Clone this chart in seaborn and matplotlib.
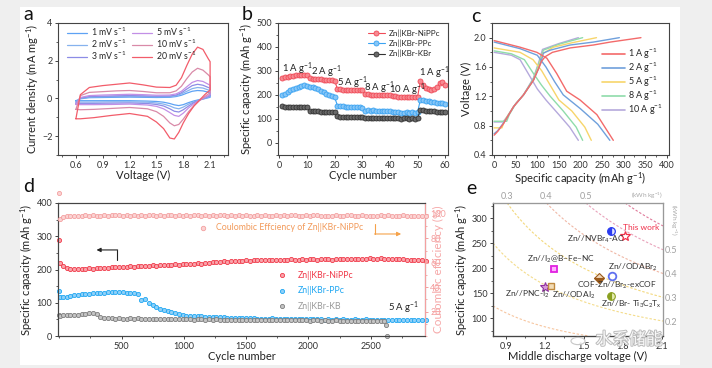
import numpy as np
import pandas as pd
import matplotlib
matplotlib.use('Agg')
import matplotlib.pyplot as plt
import seaborn as sns
from matplotlib.patches import Rectangle, Circle
from matplotlib.lines import Line2D
from matplotlib.ticker import AutoMinorLocator
import matplotlib.patheffects as pe

# ---------------- data ----------------
# (a) CV curves
cv_rates = ['1', '2', '3', '5', '10', '20']
cv_up_v = [0.6, 0.65, 0.75, 0.9, 1.05, 1.2, 1.35, 1.5, 1.65, 1.72, 1.78, 1.84, 1.9, 1.96, 2.02, 2.08, 2.1]
cv_lo_v = [2.1, 2.04, 1.98, 1.92, 1.86, 1.80, 1.75, 1.70, 1.65, 1.58, 1.5, 1.4, 1.2, 1.0, 0.8, 0.65, 0.6]
cv_up_1 = [-0.12, -0.02, 0.04, 0.05, 0.06, 0.07, 0.06, 0.05, 0.06, 0.10, 0.17, 0.28, 0.38, 0.42, 0.40, 0.33, 0.30]
cv_up_2 = [-0.18, 0.0, 0.07, 0.09, 0.10, 0.11, 0.10, 0.09, 0.10, 0.14, 0.24, 0.38, 0.52, 0.58, 0.55, 0.45, 0.42]
cv_up_3 = [-0.25, 0.02, 0.10, 0.12, 0.14, 0.15, 0.14, 0.12, 0.13, 0.18, 0.30, 0.50, 0.68, 0.75, 0.70, 0.58, 0.55]
cv_up_5 = [-0.32, 0.05, 0.15, 0.18, 0.20, 0.22, 0.20, 0.17, 0.18, 0.24, 0.38, 0.62, 0.85, 0.95, 0.90, 0.75, 0.70]
cv_up_10 = [-0.58, 0.15, 0.32, 0.36, 0.40, 0.42, 0.37, 0.30, 0.30, 0.40, 0.65, 1.05, 1.40, 1.60, 1.50, 1.25, 1.15]
cv_up_20 = [-1.08, 0.20, 0.58, 0.68, 0.75, 0.82, 0.72, 0.60, 0.58, 0.70, 1.10, 1.75, 2.35, 2.72, 2.60, 2.10, 1.95]
cv_lo_1 = [0.06, -0.01, -0.06, -0.13, -0.22, -0.33, -0.38, -0.34, -0.27, -0.20, -0.16, -0.14, -0.12, -0.12, -0.12, -0.12, -0.12]
cv_lo_2 = [0.10, 0.0, -0.08, -0.18, -0.30, -0.46, -0.55, -0.50, -0.40, -0.30, -0.24, -0.20, -0.18, -0.18, -0.19, -0.19, -0.18]
cv_lo_3 = [0.15, 0.02, -0.10, -0.22, -0.40, -0.60, -0.72, -0.68, -0.55, -0.40, -0.32, -0.27, -0.24, -0.25, -0.26, -0.26, -0.25]
cv_lo_5 = [0.20, 0.05, -0.10, -0.28, -0.50, -0.78, -0.95, -0.90, -0.75, -0.55, -0.42, -0.35, -0.30, -0.32, -0.33, -0.33, -0.32]
cv_lo_10 = [0.30, 0.10, -0.12, -0.38, -0.70, -1.10, -1.38, -1.45, -1.30, -0.95, -0.70, -0.55, -0.48, -0.53, -0.58, -0.60, -0.58]
cv_lo_20 = [0.45, 0.20, -0.10, -0.40, -0.80, -1.30, -1.80, -2.15, -2.10, -1.60, -1.25, -0.95, -0.80, -0.90, -1.02, -1.08, -1.08]

# (b) rate performance
b_cycles = list(range(1, 61))
b_nippc = [270, 274, 277, 279, 281, 283, 284, 284, 285, 285,
           270, 268, 267, 266, 265, 264, 263, 262, 262, 260,
           225, 223, 222, 222, 221, 221, 220, 220, 220, 219,
           205, 203, 202, 201, 200, 200, 200, 200, 200, 200,
           195, 194, 193, 193, 193, 193, 192, 192, 193, 193,
           257, 240, 230, 225, 222, 225, 235, 248, 256, 243]
b_ppc = [200, 205, 212, 220, 226, 231, 235, 238, 240, 238,
         235, 232, 228, 224, 218, 212, 206, 200, 195, 190,
         156, 154, 153, 152, 151, 150, 149, 148, 148, 147,
         135, 137, 134, 136, 133, 135, 134, 132, 134, 133,
         130, 128, 131, 127, 126, 130, 125, 128, 127, 129,
         180, 178, 176, 174, 172, 170, 168, 166, 165, 163]
b_kb = [153, 152, 152, 151, 151, 150, 150, 149, 149, 148,
        134, 133, 132, 132, 131, 131, 130, 130, 129, 129,
        111, 110, 110, 109, 110, 109, 109, 108, 109, 108,
        106, 104, 106, 105, 104, 105, 103, 105, 104, 104,
        104, 103, 105, 102, 104, 103, 101, 104, 102, 104,
        137, 136, 135, 134, 133, 132, 131, 130, 129, 128]

# (c) charge / discharge profiles
c_rates = ['1', '2', '5', '8', '10']
c_chg_x_1 = [0, 8, 22, 45, 68, 91, 103, 110, 118, 135, 176, 230, 269, 340]
c_chg_v_1 = [0.67, 0.72, 0.83, 1.06, 1.22, 1.42, 1.58, 1.68, 1.74, 1.80, 1.86, 1.90, 1.94, 2.0]
c_dch_x_1 = [0, 60, 99, 122, 145, 168, 199, 238, 276]
c_dch_v_1 = [1.96, 1.87, 1.80, 1.72, 1.51, 1.27, 1.15, 0.95, 0.6]
c_chg_x_2 = [0, 8, 22, 45, 68, 91, 103, 110, 114, 130, 176, 230, 290]
c_chg_v_2 = [0.69, 0.73, 0.84, 1.06, 1.22, 1.42, 1.58, 1.70, 1.79, 1.83, 1.90, 1.94, 2.0]
c_dch_x_2 = [0, 60, 100, 120, 140, 160, 200, 240, 268]
c_dch_v_2 = [1.94, 1.85, 1.76, 1.60, 1.40, 1.22, 1.03, 0.82, 0.60]
c_chg_x_5 = [0, 18, 25, 45, 68, 91, 103, 112, 137, 180, 237]
c_chg_v_5 = [0.77, 0.77, 0.88, 1.06, 1.22, 1.42, 1.60, 1.78, 1.87, 1.93, 2.0]
c_dch_x_5 = [0, 60, 90, 110, 130, 150, 180, 210, 225]
c_dch_v_5 = [1.86, 1.80, 1.70, 1.55, 1.35, 1.15, 1.00, 0.78, 0.60]
c_chg_x_8 = [0, 29, 35, 50, 68, 91, 103, 114, 150, 205]
c_chg_v_8 = [0.86, 0.86, 0.95, 1.10, 1.22, 1.44, 1.64, 1.83, 1.91, 2.0]
c_dch_x_8 = [0, 40, 70, 90, 110, 130, 160, 190, 205]
c_dch_v_8 = [1.82, 1.78, 1.70, 1.52, 1.35, 1.20, 1.00, 0.78, 0.60]
c_chg_x_10 = [0, 20, 30, 50, 68, 91, 103, 112, 150, 195]
c_chg_v_10 = [0.85, 0.85, 0.92, 1.10, 1.22, 1.45, 1.66, 1.84, 1.92, 2.0]
c_dch_x_10 = [0, 40, 60, 80, 100, 120, 150, 175, 195]
c_dch_v_10 = [1.80, 1.76, 1.70, 1.50, 1.30, 1.15, 0.95, 0.78, 0.60]

# (d) long cycling at 5 A/g
d_cycles = [1, 10] + list(range(30, 2941, 30))
d_nippc = [288, 220,
           210, 205, 202, 201, 202, 203, 202, 204, 203, 205,
           204, 206, 205, 207, 208, 207, 209, 208, 210, 209,
           211, 210, 212, 211, 213, 212, 214, 213, 215, 214,
           216, 215, 217, 216, 218, 217, 219, 218, 220, 221,
           222, 224, 223, 225, 224, 226, 225, 227, 226, 228,
           227, 228, 229, 228, 230, 229, 228, 230, 229, 230,
           229, 231, 230, 229, 231, 230, 232, 231, 230, 232,
           231, 232, 230, 232, 231, 233, 232, 231, 233, 232,
           233, 232, 234, 233, 232, 234, 233, 232, 233, 232,
           231, 232, 230, 229, 230, 228, 229, 227]
d_ce = [117, 95.5,
        97.5, 98.0, 98.3, 98.0, 98.6, 98.2, 98.8, 98.4, 98.9, 98.5,
        98.7, 99.0, 98.6, 99.2, 98.8, 99.0, 98.5, 98.9, 98.7, 99.1,
        98.6, 98.9, 98.4, 98.8, 99.0, 98.6, 98.9, 98.5, 98.8, 99.2,
        98.7, 98.9, 98.5, 99.0, 98.6, 98.8, 99.3, 98.7, 99.0, 98.6,
        98.9, 98.5, 98.8, 99.1, 98.6, 98.9, 98.4, 98.8, 98.6, 99.0,
        98.7, 98.5, 98.9, 98.6, 99.1, 98.7, 98.5, 98.9, 98.6, 98.8,
        98.5, 98.9, 99.2, 98.7, 98.5, 98.8, 98.4, 98.9, 99.0, 98.6,
        98.3, 98.7, 98.5, 98.8, 98.2, 98.6, 98.9, 99.1, 98.7, 98.5,
        98.8, 98.4, 98.7, 98.3, 98.6, 98.9, 98.5, 98.8, 98.4, 98.7,
        98.5, 98.8, 98.4, 98.6, 98.3, 98.7, 98.5, 98.6]
d_ppc = [135, 118,
         116, 118, 120, 122, 124, 125, 126, 127, 128, 129,
         130, 129, 131, 132, 133, 132, 131, 130, 129, 128,
         127, 108, 110, 100, 93, 87, 82, 78, 74, 71,
         68, 65, 62, 61, 60, 60, 59, 59, 58, 58,
         57, 57, 56, 56, 55, 55, 54, 54, 54, 53,
         53, 53, 52, 52, 52, 52, 53, 51, 51, 51,
         51, 50, 51, 50, 50, 50, 51, 50, 50, 50,
         49, 50, 49, 50, 49, 50, 49, 49, 50, 49,
         49, 50, 49, 49, 49, 49, 48, 49, 49, 48,
         49, 48, 49, 48, 48, 48, 49, 48]
d_kb_cycles = [1, 10] + list(range(30, 2611, 30)) + [2625, 2632]
d_kb = [62, 61,
        62, 62, 63, 63, 64, 65, 67, 69, 70, 66,
        56, 54, 53, 53, 52, 53, 51, 52, 53, 52,
        53, 52, 51, 52, 51, 52, 51, 50, 51, 50,
        51, 50, 50, 51, 50, 49, 50, 50, 49, 50,
        49, 50, 49, 49, 48, 49, 49, 48, 49, 48,
        48, 49, 48, 48, 49, 48, 47, 48, 48, 47,
        48, 47, 47, 48, 47, 47, 46, 47, 47, 46,
        47, 46, 46, 47, 46, 46, 45, 46, 46, 45,
        46, 45, 45, 46, 45, 44, 45,
        33, 0]

# (e) comparison
e_names = ['This work', 'Zn//NVBr$_4$-AC', 'Zn//I$_2$@B\u2013Fe\u2013NC', 'Zn//ODABr$_2$',
           'COF-Zn//Br$_2$-exCOF', 'Zn//PNC-I$_2$', 'Zn//ODAI$_2$', 'Zn//Br- Ti$_3$C$_2$T$_x$']
e_voltage = [1.82, 1.71, 1.27, 1.72, 1.62, 1.20, 1.25, 1.71]
e_capacity = [265, 275, 199, 185, 181, 163, 165, 145]
e_energy_levels = [0.1, 0.2, 0.3, 0.4, 0.5, 0.6]
e_top_labels = [0.3, 0.4, 0.5]
e_right_labels = [0.2, 0.3, 0.4, 0.5]

# ---------------- style ----------------
sns.set_theme(style='ticks')
plt.rcParams['font.family'] = ['Lato', 'DejaVu Sans']
plt.rcParams['mathtext.fontset'] = 'custom'
plt.rcParams['mathtext.rm'] = 'Lato'
plt.rcParams['mathtext.it'] = 'Lato:italic'
plt.rcParams['mathtext.default'] = 'rm'
plt.rcParams['axes.edgecolor'] = '#444444'
plt.rcParams['axes.linewidth'] = 0.8
plt.rcParams['xtick.color'] = '#444444'
plt.rcParams['ytick.color'] = '#444444'
plt.rcParams['xtick.labelcolor'] = '#333333'
plt.rcParams['ytick.labelcolor'] = '#333333'
plt.rcParams['axes.labelcolor'] = '#222222'

W, H = 712, 368
fig = plt.figure(figsize=(7.12, 3.68), dpi=100, facecolor='#efefef')
fig.patches.append(Rectangle((20 / W, 1 - 365 / H), 660 / W, 358 / H,
                             transform=fig.transFigure, facecolor='white',
                             edgecolor='none', zorder=-10))


def px_axes(x0, y0, x1, y1):
    ax = fig.add_axes([x0 / W, 1 - y1 / H, (x1 - x0) / W, (y1 - y0) / H])
    ax.set_zorder(1)
    return ax


def style(ax, minor=True):
    ax.tick_params(direction='out', length=2.5, width=0.7, labelsize=6.5, pad=1.5)
    ax.tick_params(which='minor', direction='out', length=1.5, width=0.6)
    if minor:
        ax.xaxis.set_minor_locator(AutoMinorLocator(2))
        ax.yaxis.set_minor_locator(AutoMinorLocator(2))
    for s in ax.spines.values():
        s.set_visible(True)


def align_legend(ax, leg, anchor, tx, ty, use_text=False):
    """Shift the legend so its first handle (or text) starts at pixel (tx, ty)."""
    fig.canvas.draw()
    r = fig.canvas.get_renderer()
    if use_text:
        bb = leg.get_texts()[0].get_window_extent(r)
    else:
        bb = leg.legend_handles[0].get_window_extent(r)
    cx, cy = bb.x0, 0.5 * (bb.y0 + bb.y1)
    axbb = ax.get_window_extent(r)
    dx = (tx - cx) / axbb.width
    dy = ((H - ty) - cy) / axbb.height
    leg.set_bbox_to_anchor((anchor[0] + dx, anchor[1] + dy), transform=ax.transAxes)


LBL = 8.0

# ---------------- (a) ----------------
axa = px_axes(58, 23, 228, 155)
cv_colors = ['#5ea2f4', '#86b2ee', '#8c8ce6', '#c28fe6', '#d98aa8', '#f25c6a']
cv_up = [cv_up_1, cv_up_2, cv_up_3, cv_up_5, cv_up_10, cv_up_20]
cv_lo = [cv_lo_1, cv_lo_2, cv_lo_3, cv_lo_5, cv_lo_10, cv_lo_20]
for r, up, lo, col in zip(cv_rates, cv_up, cv_lo, cv_colors):
    df = pd.DataFrame({'V': cv_up_v + cv_lo_v, 'I': up + lo})
    sns.lineplot(data=df, x='V', y='I', sort=False, estimator=None, color=col,
                 lw=0.9, ax=axa, label=f'{r} mV s$^{{-1}}$')
axa.set_xlim(0.4, 2.3)
axa.set_ylim(-3, 4)
axa.set_xticks([0.6, 0.9, 1.2, 1.5, 1.8, 2.1])
axa.set_yticks([-2, 0, 2, 4])
style(axa)
axa.set_xlabel('Voltage (V)', fontsize=LBL, labelpad=0.5)
axa.set_ylabel('Current density (mA mg$^{-1}$)', fontsize=LBL, labelpad=1)
anc_a = (0.04, 0.95)
leg_a = axa.legend(ncol=2, loc='upper left', bbox_to_anchor=anc_a, frameon=False,
                   fontsize=6.3, handlelength=2.3, columnspacing=0.7, labelspacing=-0.05,
                   handletextpad=0.4, borderaxespad=0.0)

# ---------------- (b) ----------------
axb = px_axes(278, 23, 448, 155)
b_names = ['Zn||KBr-NiPPc', 'Zn||KBr-PPc', 'Zn||KBr-KBr']
b_colors = ['#f04b58', '#3aa3f2', '#333333']
b_faces = ['#f78a92', '#86c6f7', '#6a6a6a']
for name, vals, col, fc in zip(b_names, [b_nippc, b_ppc, b_kb], b_colors, b_faces):
    sns.lineplot(x=b_cycles, y=vals, color=col, lw=0.8, marker='o', markersize=3.6,
                 markerfacecolor=fc, markeredgecolor=col, markeredgewidth=0.6,
                 ax=axb, label=name)
axb.set_xlim(-0.5, 61)
axb.set_ylim(-50, 500)
axb.set_xticks(range(0, 61, 10))
axb.set_yticks(range(0, 501, 100))
style(axb)
axb.set_xlabel('Cycle number', fontsize=LBL, labelpad=0.5)
axb.set_ylabel('Specific capacity (mAh g$^{-1}$)', fontsize=LBL, labelpad=1)
anc_b = (0.5, 0.97)
leg_b = axb.legend(loc='upper left', bbox_to_anchor=anc_b, frameon=False, fontsize=5.8,
                   handlelength=2.2, labelspacing=0.35, handletextpad=0.5, borderaxespad=0.0)
for txt, x, y in [('1 A g$^{-1}$', 1.0, 310), ('2 A g$^{-1}$', 11.5, 298),
                  ('5 A g$^{-1}$', 21.0, 251), ('8 A g$^{-1}$', 30.7, 229),
                  ('10 A g$^{-1}$', 39.6, 221), ('1 A g$^{-1}$', 50.6, 292)]:
    axb.text(x, y, txt, fontsize=6.8, color='#222222', ha='left', va='center')

# ---------------- (c) ----------------
axc = px_axes(492, 23, 669, 155)
c_colors = ['#f36a6a', '#6fa0dc', '#f7d56b', '#8fdcaa', '#b5a9dc']
c_chg = [(c_chg_x_1, c_chg_v_1), (c_chg_x_2, c_chg_v_2), (c_chg_x_5, c_chg_v_5),
         (c_chg_x_8, c_chg_v_8), (c_chg_x_10, c_chg_v_10)]
c_dch = [(c_dch_x_1, c_dch_v_1), (c_dch_x_2, c_dch_v_2), (c_dch_x_5, c_dch_v_5),
         (c_dch_x_8, c_dch_v_8), (c_dch_x_10, c_dch_v_10)]
for i in range(len(c_rates) - 1, -1, -1):
    col = c_colors[i]
    sns.lineplot(x=c_chg[i][0], y=c_chg[i][1], sort=False, estimator=None, color=col, lw=1.0, ax=axc)
    sns.lineplot(x=c_dch[i][0], y=c_dch[i][1], sort=False, estimator=None, color=col, lw=1.0, ax=axc)
axc.set_xlim(-5, 405)
axc.set_ylim(0.4, 2.2)
axc.set_xticks(range(0, 401, 50))
axc.set_yticks([0.4, 0.8, 1.2, 1.6, 2.0])
style(axc)
axc.set_ylabel('Voltage (V)', fontsize=LBL, labelpad=1)
axc.set_xlabel('Specific capacity (mAh g$^{-1}$)', fontsize=LBL, labelpad=0.5)
handles = [Line2D([], [], color=c, lw=1.2) for c in c_colors]
anc_c = (0.58, 0.8)
leg_c = axc.legend(handles, [f'{r} A g$^{{-1}}$' for r in c_rates], loc='upper left',
                   bbox_to_anchor=anc_c, frameon=False, fontsize=6.5,
                   handlelength=2.6, labelspacing=-0.05, handletextpad=0.3, borderaxespad=0)

# ---------------- (d) ----------------
axd = px_axes(58, 203, 425, 336)
axd2 = axd.twinx()
d_specs = [('Zn||KBr-NiPPc', d_cycles, d_nippc, '#f03848', '#f9a3aa'),
           ('Zn||KBr-PPc', d_cycles, d_ppc, '#1ea6f2', '#8fd0f8'),
           ('Zn||KBr-KB', d_kb_cycles, d_kb, '#7d7d7d', '#c4c4c4')]
for name, cx, cy, ec, fc in d_specs:
    sns.scatterplot(x=cx, y=cy, ax=axd, marker='o', s=9, color=fc, edgecolor=ec,
                    linewidth=0.6, label=name, clip_on=False, zorder=3)
sns.scatterplot(x=d_cycles, y=d_ce, ax=axd2, marker='o', s=9, color='#fbd3d3',
                edgecolor='#f3a0a0', linewidth=0.6, clip_on=False, zorder=3)
axd.set_xlim(-10, 2935)
axd.set_ylim(0, 400)
axd2.set_ylim(0, 109)
axd.set_xticks([500, 1000, 1500, 2000, 2500])
axd.set_yticks([0, 100, 200, 300, 400])
axd2.set_yticks([20, 40, 60, 80, 100])
style(axd)
axd2.tick_params(direction='out', length=2.5, width=0.7, labelsize=6.5, pad=1.2,
                 colors='#f4a0a0', labelcolor='#f4a0a0')
axd2.tick_params(which='minor', direction='out', length=1.5, width=0.6, colors='#f4a0a0')
axd2.yaxis.set_minor_locator(AutoMinorLocator(2))
axd2.spines['right'].set_color('#f4a0a0')
axd.set_xlabel('Cycle number', fontsize=LBL, labelpad=0.5)
axd.set_ylabel('Specific capacity (mAh g$^{-1}$)', fontsize=LBL, labelpad=1)
axd2.set_ylabel('Coulombic efficiency (%)', fontsize=LBL + 0.5, color='#f6a8a8', labelpad=-9)
anc_d = (0.6, 0.6)
leg_d = axd.legend(loc='upper left', bbox_to_anchor=anc_d, frameon=False, fontsize=6.3,
                   labelspacing=0.75, handletextpad=0.8, borderaxespad=0,
                   labelcolor=['#f03848', '#1ea6f2', '#9a9a9a'], markerscale=1.0)
axd.text(0.985, 0.215, '5 A g$^{-1}$', transform=axd.transAxes, ha='right', va='center',
         fontsize=6.8, color='#222222')
axd.plot([0.395], [0.815], transform=axd.transAxes, marker='o', ms=3.2,
         mfc='#fbd3d3', mec='#f3a0a0', mew=0.6, ls='none')
axd.text(0.43, 0.815, 'Coulombic Effciency of Zn||KBr-NiPPc', transform=axd.transAxes,
         ha='left', va='center', fontsize=6.3, color='#f29a5a')
# left arrow (black)
axd.plot([0.161, 0.161], [0.571, 0.647], transform=axd.transAxes, color='#222222', lw=0.8)
axd.annotate('', xy=(0.105, 0.647), xytext=(0.1625, 0.647), xycoords='axes fraction',
             arrowprops=dict(arrowstyle='-|>', color='#222222', lw=0.8, mutation_scale=6,
                             shrinkA=0, shrinkB=0))
# right arrow (orange)
axd.plot([0.864, 0.864], [0.842, 0.767], transform=axd.transAxes, color='#f5a24a', lw=0.8)
axd.annotate('', xy=(0.935, 0.767), xytext=(0.8625, 0.767), xycoords='axes fraction',
             arrowprops=dict(arrowstyle='-|>', color='#f5a24a', lw=0.8, mutation_scale=6,
                             shrinkA=0, shrinkB=0))

# ---------------- (e) ----------------
axe = px_axes(493, 203, 663, 336)
e_xlim = (0.8, 2.11)
e_ylim = (65, 330)
vv = np.linspace(e_xlim[0], e_xlim[1], 200)
cc = np.linspace(e_ylim[0], e_ylim[1], 200)
VV, CC = np.meshgrid(vv, cc)
e_line_colors = ['#f7c6a0', '#f4dc8c', '#f3d87c', '#f0b8a6', '#e9a3bb', '#e07b9b']
axe.contour(VV, CC, VV * CC / 1000.0, levels=e_energy_levels, colors=e_line_colors,
            linewidths=0.8, linestyles=[(0, (2.2, 1.6))])
marker_specs = [
    dict(marker='*', ms=7, mfc='none', mec='#f0304a', mew=0.9),
    dict(marker='o', ms=5.5, mfc='#2b3cf0', mfcalt='#dfe3ff', fillstyle='left', mec='#2b3cf0', mew=0.9),
    dict(marker='s', ms=5, mfc='#ffb0ff', mec='#e020e0', mew=1.3),
    dict(marker='o', ms=5.5, mfc='white', mec='#6070f0', mew=1.3),
    dict(marker='D', ms=5, mfc='#9b5a1a', mfcalt='#f0d6b8', fillstyle='bottom', mec='#9b5a1a', mew=0.8),
    dict(marker='*', ms=7, mfc='#d79ad7', mec='#9030a0', mew=0.8),
    dict(marker='s', ms=5, mfc='#f2dcb6', mec='#c08a40', mew=1.0),
    dict(marker='o', ms=5.5, mfc='#8aa020', mfcalt='#e4ecb0', fillstyle='left', mec='#8aa020', mew=0.8),
]
for v, c, ms in zip(e_voltage, e_capacity, marker_specs):
    axe.plot([v], [c], ls='none', zorder=4, **ms)
e_label_pos = [(1.80, 281), (1.37, 258), (1.06, 217), (1.69, 201),
               (1.448, 165), (0.89, 148.5), (1.255, 145), (1.63, 127)]
for name, (x, y) in zip(e_names, e_label_pos):
    axe.text(x, y, name, fontsize=6.0, ha='left', va='center',
             color='#f0304a' if name == 'This work' else '#333333', zorder=5)
axe.set_xlim(*e_xlim)
axe.set_ylim(*e_ylim)
axe.set_xticks([0.9, 1.2, 1.5, 1.8, 2.1])
axe.set_yticks([100, 150, 200, 250, 300])
style(axe)
axe.set_xlabel('Middle discharge voltage (V)', fontsize=LBL, labelpad=0.5)
axe.set_ylabel('Specific capacity (mAh g$^{-1}$)', fontsize=LBL, labelpad=1)
axe.spines['top'].set_color('#999999')
axe.spines['right'].set_color('#999999')
axt = axe.twiny()
axt.set_xlim(*e_xlim)
axt.set_xticks([1000 * e / e_ylim[1] for e in e_top_labels])
axt.set_xticklabels([f'{e:.1f}' for e in e_top_labels])
axt.tick_params(length=0, labelsize=6.5, pad=1.5, labelcolor='#a0a0a0')
axt.spines['top'].set_color('#999999')
axt.spines['right'].set_color('#999999')
axr = axe.twinx()
axr.set_ylim(*e_ylim)
axr.set_yticks([1000 * e / e_xlim[1] for e in e_right_labels])
axr.set_yticklabels([f'{e:.1f}' for e in e_right_labels])
axr.tick_params(length=0, labelsize=6.5, pad=1.5, labelcolor='#a0a0a0')
axr.spines['right'].set_color('#999999')
axr.spines['top'].set_color('#999999')
axe.text(1.0, 1.015, '(kWh kg$^{-1}$)', transform=axe.transAxes, ha='right', va='bottom',
         fontsize=4.6, color='#a8a8a8')
axe.text(1.03, 0.99, '(kWh kg$^{-1}$)', transform=axe.transAxes, ha='left', va='top',
         rotation=-90, fontsize=4.6, color='#a8a8a8')

# ---------------- panel letters & watermark ----------------
for letter, x, y in [('a', 28, 15), ('b', 247, 15), ('c', 476, 16), ('d', 29, 187), ('e', 471, 189)]:
    fig.text(x / W, 1 - y / H, letter, fontsize=14, color='#111111', ha='center', va='center')
fig.patches.append(Circle((578 / W, 1 - 341 / H), 7 / W, transform=fig.transFigure,
                          facecolor='white', edgecolor='#c0c0c0', lw=0.8, alpha=0.9, zorder=9))
fig.text(629 / W, 1 - 340 / H, '水系储能', family=['Noto Sans CJK SC', 'DejaVu Sans'],
         fontsize=12, color='white', ha='center', va='center', alpha=0.9,
         path_effects=[pe.withStroke(linewidth=1.4, foreground='#b5b5b5')], zorder=10)

# place legends at the positions measured on the reference (pixels from top-left)
align_legend(axa, leg_a, anc_a, 67, 33)
align_legend(axb, leg_b, anc_b, 365, 33)
align_legend(axc, leg_c, anc_c, 602, 54)
align_legend(axd, leg_d, anc_d, 298, 275, use_text=True)

fig.savefig('out.png', dpi=100, facecolor=fig.get_facecolor())
